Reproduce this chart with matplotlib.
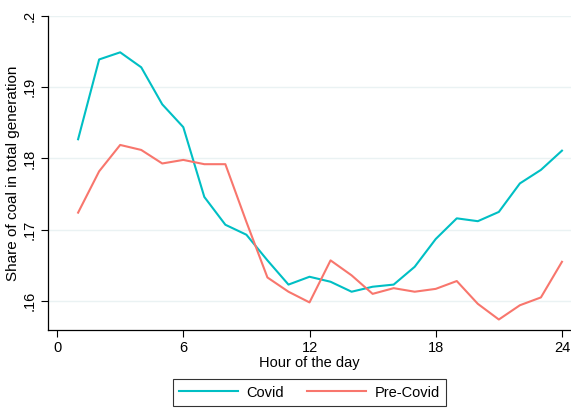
import numpy as np
import matplotlib
matplotlib.use("Agg")
import matplotlib.pyplot as plt

plt.rcParams['font.family'] = ['Liberation Sans', 'DejaVu Sans']

hours = np.arange(1, 25)
covid = [0.1827, 0.1939, 0.1949, 0.1928, 0.1876, 0.1844, 0.1746, 0.1707,
         0.1693, 0.1657, 0.1623, 0.1634, 0.1627, 0.1613, 0.1620, 0.1623,
         0.1648, 0.1687, 0.1716, 0.1712, 0.1725, 0.1765, 0.1784, 0.1811]
pre_covid = [0.1724, 0.1782, 0.1819, 0.1812, 0.1793, 0.1798, 0.1792, 0.1792,
             0.1711, 0.1633, 0.1613, 0.1598, 0.1657, 0.1636, 0.1610, 0.1618,
             0.1613, 0.1617, 0.1628, 0.1596, 0.1574, 0.1594, 0.1605, 0.1655]

xticks = [0, 6, 12, 18, 24]
yticks = [0.16, 0.17, 0.18, 0.19, 0.20]
ytick_labels = ['.16', '.17', '.18', '.19', '.2']

fig = plt.figure(figsize=(5.71, 4.09), dpi=100)
ax = fig.add_axes([0.0841, 0.1932, 0.9159, 0.7677])

# grid
for y in yticks:
    ax.axhline(y, color='#eaf2f3', lw=1.0, zorder=0)

ax.plot(hours, covid, color='#00BFC4', lw=1.5, label='Covid')
ax.plot(hours, pre_covid, color='#F8766D', lw=1.5, label='Pre-Covid')

ax.set_xlim(-0.43, 24.43)
ax.set_ylim(0.15593, 0.2)
ax.set_xticks(xticks)
ax.set_yticks(yticks)
ax.set_yticklabels(ytick_labels, rotation=90, va='center')
ax.tick_params(axis='both', direction='out', length=5, width=0.8,
               labelsize=10.5, color='black', pad=3)

for s in ['top', 'right']:
    ax.spines[s].set_visible(False)
for s in ['left', 'bottom']:
    ax.spines[s].set_linewidth(0.9)

ax.set_xlabel('Hour of the day', fontsize=10.5, labelpad=1)
ax.set_ylabel('Share of coal in total generation', fontsize=11, labelpad=2)

leg = ax.legend(loc='upper center', bbox_to_anchor=(0.5, -0.156), ncol=2,
                frameon=True, fancybox=False, edgecolor='black',
                fontsize=10.5, handlelength=4.0, columnspacing=1.6,
                borderpad=0.45, handletextpad=0.6, borderaxespad=0)
leg.get_frame().set_linewidth(0.8)

fig.savefig('out.png', dpi=100)
